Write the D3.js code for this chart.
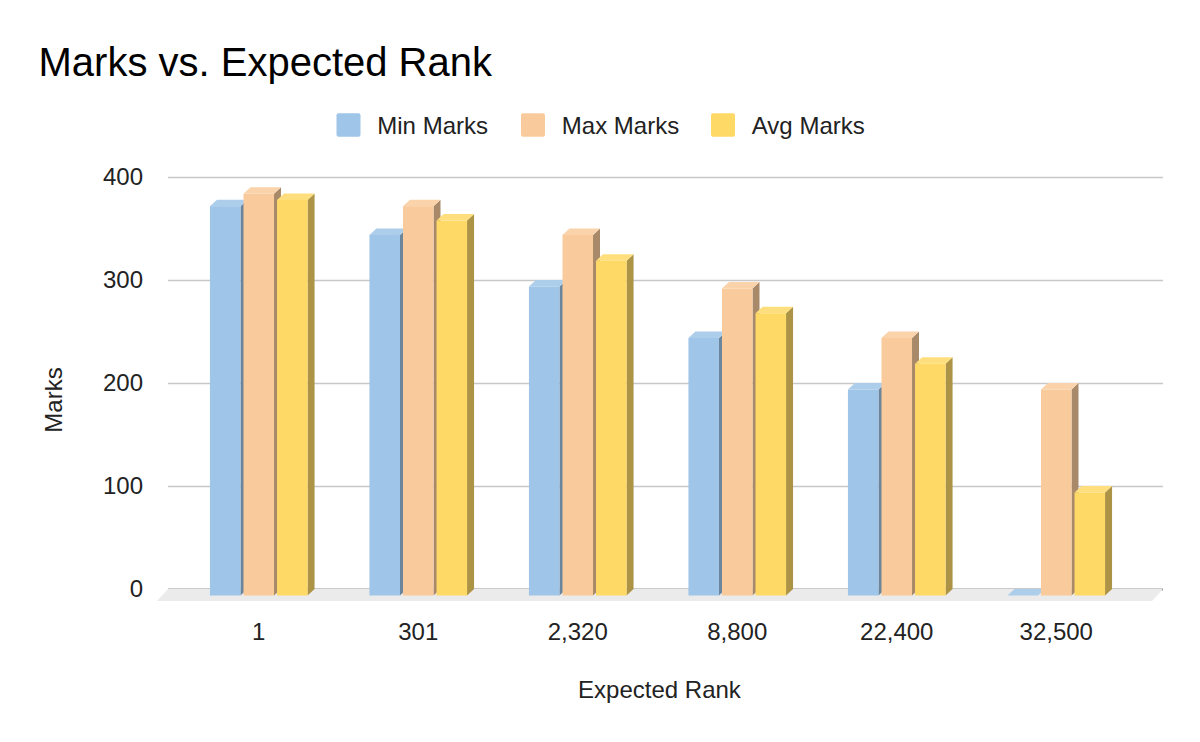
<!DOCTYPE html>
<html>
<head>
<meta charset="utf-8">
<script src="https://cdnjs.cloudflare.com/ajax/libs/d3/7.8.5/d3.min.js"></script>
<style>
body { margin: 0; background: #fff; }
text { font-family: "Liberation Sans", Arial, sans-serif; fill: #222; }
</style>
</head>
<body>
<script>
// chart data
var ranks = ["1", "301", "2,320", "8,800", "22,400", "32,500"];
var series_names = ["Min Marks", "Max Marks", "Avg Marks"];
var min_marks = [378, 350, 300, 250, 200, 0];
var max_marks = [390, 378, 350, 298, 250, 200];
var avg_marks = [384, 364, 325, 274, 225, 100];
var y_ticks = [0, 100, 200, 300, 400];
var series_colors = ["#9fc5e8", "#f9cb9c", "#ffd966"];

var series_values = [min_marks, max_marks, avg_marks];

var width = 1200, height = 742;
// 3d depth of bars (back plane is shifted right/up)
var depth_x = 7, depth_y = 6.5;
var back_left = 168, back_right = 1163;
var font_size = "24px";

var svg = d3.select("body").append("svg")
	.attr("width", width)
	.attr("height", height);

// scales (front plane)
var x0 = d3.scaleBand().domain(ranks).range([179, 1136]).paddingInner(0.388).paddingOuter(0.194);
var x1 = d3.scaleBand().domain(series_names).range([0, x0.bandwidth()]).paddingInner(0.09);
var y = d3.scaleLinear().domain([0, 400]).range([595.5, 183.5]);

// title
svg.append("text")
	.attr("x", 38.5).attr("y", 76)
	.style("font-size", "40px")
	.style("fill", "#000")
	.text("Marks vs. Expected Rank");

// legend
var legend_x = [336.5, 521, 711];
var legend = svg.selectAll("g.legend").data(series_names).enter().append("g")
	.attr("class", "legend")
	.attr("transform", function(d, i){ return "translate(" + legend_x[i] + ",113.3)"; });
legend.append("rect")
	.attr("width", 24).attr("height", 23.5).attr("rx", 2)
	.style("fill", function(d, i){ return series_colors[i]; });
legend.append("text")
	.attr("x", 40.8).attr("y", 20.5)
	.style("font-size", font_size)
	.text(function(d){ return d; });

// back wall gridlines + y tick labels
var y_back = y.copy().range(y.range().map(function(v){ return v - depth_y; }));
var y_axis = svg.append("g")
	.attr("transform", "translate(" + back_left + ",0)")
	.call(d3.axisLeft(y_back).tickValues(y_ticks).tickSizeInner(-(back_right - back_left)).tickSizeOuter(0).tickPadding(25));
y_axis.select(".domain").remove();
y_axis.selectAll(".tick line")
	.style("stroke", function(d){ return d === 0 ? "#333" : "#c8c8c8"; })
	.style("stroke-width", function(d){ return d === 0 ? 1.6 : 1.5; });
y_axis.selectAll(".tick text")
	.style("font-size", font_size)
	.style("font-family", "'Liberation Sans', Arial, sans-serif")
	.style("fill", "#222");
// put the zero line on top of the other gridlines
y_axis.selectAll(".tick").filter(function(d){ return d === 0; }).raise();

// floor
var y0_back = y_back(0);
svg.append("polygon")
	.attr("points", [
		[back_left, y0_back], [back_right, y0_back],
		[back_right - 11, y0_back + 12], [back_left - 11, y0_back + 12]
	].join(" "))
	.style("fill", "#ebebeb");

// bar data, group by group
var bar_data = [];
ranks.forEach(function(r, i){
	series_names.forEach(function(s, j){
		bar_data.push({rank: r, series: s, value: series_values[j][i], color: series_colors[j]});
	});
});

var bars = svg.selectAll("g.bar").data(bar_data).enter().append("g").attr("class", "bar");

function barX(d){ return x0(d.rank) + x1(d.series); }
var bw = x1.bandwidth();

// side face
bars.append("polygon")
	.attr("points", function(d){
		var x = barX(d) + bw, t = y(d.value), b = y(0);
		return [[x, t], [x + depth_x, t - depth_y], [x + depth_x, b - depth_y], [x, b]].join(" ");
	})
	.style("fill", function(d){ return d3.rgb(d.color).darker(1.1); });
// top face
bars.append("polygon")
	.attr("points", function(d){
		var x = barX(d), t = y(d.value);
		return [[x, t], [x + depth_x, t - depth_y], [x + bw + depth_x, t - depth_y], [x + bw, t]].join(" ");
	})
	.style("fill", function(d){ return d3.interpolateRgb(d.color, "#fff")(0.15); });
// front face
bars.append("rect")
	.attr("x", barX)
	.attr("y", function(d){ return y(d.value); })
	.attr("width", bw)
	.attr("height", function(d){ return y(0) - y(d.value); })
	.style("fill", function(d){ return d.color; });

// category axis
var x_axis = svg.append("g")
	.attr("transform", "translate(0," + y(0) + ")")
	.call(d3.axisBottom(x0).tickSize(0).tickPadding(27.5));
x_axis.select(".domain").remove();
x_axis.selectAll(".tick text")
	.style("font-size", font_size)
	.style("font-family", "'Liberation Sans', Arial, sans-serif")
	.style("fill", "#222");

// axis titles
svg.append("text")
	.attr("transform", "translate(61.5,400) rotate(-90)")
	.attr("text-anchor", "middle")
	.style("font-size", font_size)
	.text("Marks");
svg.append("text")
	.attr("x", 659.5).attr("y", 698)
	.attr("text-anchor", "middle")
	.style("font-size", font_size)
	.text("Expected Rank");
</script>
</body>
</html>
